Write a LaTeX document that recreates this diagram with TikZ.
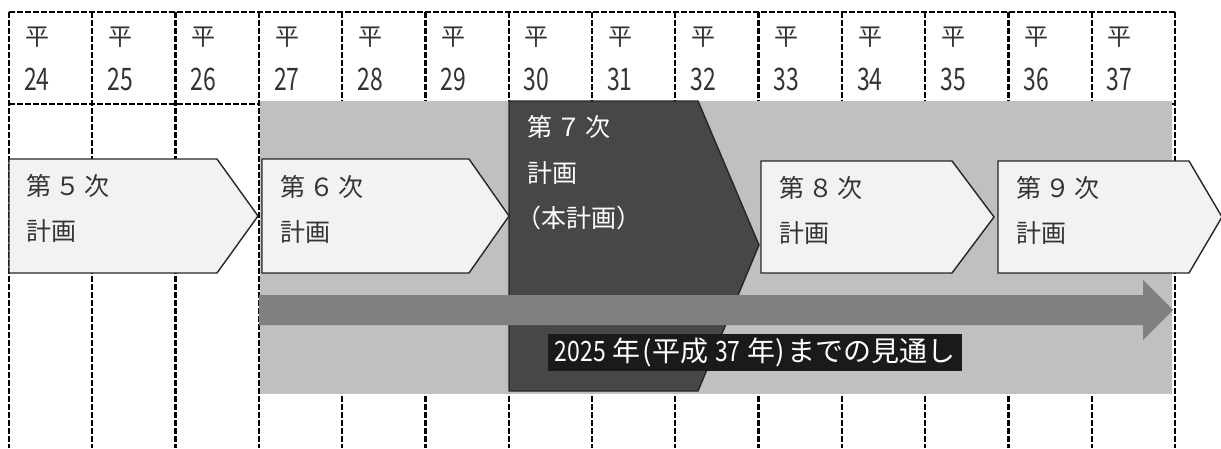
\documentclass[tikz,border=0pt]{standalone}
\usepackage{fontspec}
\usepackage{graphicx}
\setmainfont{Noto Sans CJK JP}
\definecolor{bggray}{HTML}{C0C0C0}
\definecolor{arrowgray}{HTML}{808080}
\definecolor{darkplan}{HTML}{474747}
\definecolor{edgedark}{HTML}{262626}
\definecolor{lightfill}{HTML}{F2F2F2}
\definecolor{labelbg}{HTML}{1A1A1A}
\definecolor{txt}{HTML}{333333}
\newcommand{\nd}[1]{\scalebox{0.74}[1]{#1}}
\newcommand{\ld}[1]{\scalebox{0.82}[1]{#1}}
\newcommand{\jsp}{\hspace{4pt}}
\newcommand{\lsp}{\hspace{7pt}}
\tikzset{
  gridv/.style={line width=2.4pt, dash pattern=on 6pt off 2pt, black},
  gridh/.style={line width=1.8pt, dash pattern=on 6pt off 2pt, black},
  plan/.style={fill=lightfill, draw=edgedark, line width=1.4pt, line join=miter},
  hdr/.style={anchor=west, inner sep=0pt, text=txt, font=\fontsize{24}{24}\selectfont},
  num/.style={anchor=west, inner sep=0pt, text=txt, font=\fontsize{31}{31}\selectfont},
  ptxt/.style={anchor=west, inner sep=0pt, text=txt, font=\fontsize{25}{25}\selectfont},
  wtxt/.style={anchor=west, inner sep=0pt, text=white, font=\fontsize{25}{25}\selectfont},
}
\begin{document}
\begin{tikzpicture}[x=1pt,y=-1pt]
\useasboundingbox (0,0) rectangle (1221,448);
\fill[white] (0,0) rectangle (1221,448);
% grid
\foreach \i in {0,...,14} {
  \coordinate (t\i) at ({9+\i*83.286},12);
  \coordinate (b\i) at ({9+\i*83.286},448);
  \draw[gridv] (t\i) -- (b\i);
}
\coordinate (hl) at (9,12); \coordinate (hr) at (1175,12);
\coordinate (ml) at (9,104); \coordinate (mr) at (1175,104);
\draw[gridh] (hl) -- (hr);
\draw[gridh] (ml) -- (mr);
% header texts
\foreach \i/\y in {0/24,1/25,2/26,3/27,4/28,5/29,6/30,7/31,8/32,9/33,10/34,11/35,12/36,13/37} {
  \node[hdr] (h\i) at ({9+\i*83.286+16},37) {平};
  \node[num] (n\i) at ({9+\i*83.286+15},79) {\nd{\y}};
}
% gray background
\fill[bggray] (260,101) rectangle (1172,394);
% dark plan 7
\draw[fill=darkplan, draw=edgedark, line width=1.4pt] (509,101) -- (698,101) -- (759,245) -- (698,391) -- (509,391) -- cycle;
% arrow
\fill[arrowgray] (259,295) -- (1143,295) -- (1143,280) -- (1173,310) -- (1143,340) -- (1143,325) -- (259,325) -- cycle;
% light plans
\draw[plan] (9,159) -- (217,159) -- (258,216) -- (217,273) -- (9,273) -- cycle;
\draw[plan] (262,159) -- (469,159) -- (509,216) -- (469,273) -- (262,273) -- cycle;
\draw[plan] (761,161) -- (952,161) -- (994,217) -- (952,273) -- (761,273) -- cycle;
\draw[plan] (998,161) -- (1189,161) -- (1222,217) -- (1189,273) -- (998,273) -- cycle;
% plan texts
\node[ptxt] (p5a) at (26,186) {第\jsp{}５\jsp{}次};
\node[ptxt] (p5b) at (26,231) {計画};
\node[ptxt] (p6a) at (280,187) {第\jsp{}６\jsp{}次};
\node[ptxt] (p6b) at (280,232) {計画};
\node[wtxt] (p7a) at (527,127) {第\jsp{}７\jsp{}次};
\node[wtxt] (p7b) at (527,173) {計画};
\node[wtxt] (p7c) at (516,218) {（本計画）};
\node[ptxt] (p8a) at (779,188) {第\jsp{}８\jsp{}次};
\node[ptxt] (p8b) at (779,233) {計画};
\node[ptxt] (p9a) at (1016,188) {第\jsp{}９\jsp{}次};
\node[ptxt] (p9b) at (1016,233) {計画};
% label
\fill[labelbg] (548,334) rectangle (962,371);
\node[anchor=center, inner sep=0pt, text=white, font=\fontsize{28}{28}\selectfont] (lbl) at (755,352.5) {\ld{2025}\lsp{}年\hspace{2pt}(平成\lsp{}\ld{37}\lsp{}年)\hspace{2pt}までの見通し};
\end{tikzpicture}
\end{document}
